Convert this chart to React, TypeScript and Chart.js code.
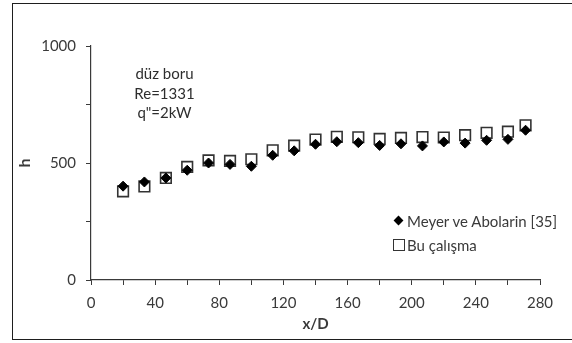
import React, { useEffect, useRef } from "react";
import { Chart, registerables } from "chart.js";

Chart.register(...registerables);

// x/D positions (shared by both series)
const xD = [20, 33.3, 46.7, 60, 73.3, 86.7, 100, 113.3, 126.7, 140, 153.3, 166.7, 180, 193.3, 206.7, 220, 233.3, 246.7, 260, 271];
// Meyer ve Abolarin [35]
const meyerH = [401, 419, 436, 469, 500, 494, 486, 533, 552, 580, 591, 587, 575, 582, 573, 590, 585, 597, 601, 640];
// Bu çalışma
const buH = [379, 400, 436, 483, 511, 509, 516, 554, 574, 600, 612, 610, 603, 607, 611, 609, 619, 629, 634, 661];

const seriesNames = ["Meyer ve Abolarin [35]", "Bu çalışma"];
const annotationLines = ["düz boru", "Re=1331", 'q"=2kW'];

const xTickValues = [0, 20, 40, 60, 80, 100, 120, 140, 160, 180, 200, 220, 240, 260, 280];
const xTickLabels = [0, 40, 80, 120, 160, 200, 240, 280];
const yTickValues = [0, 250, 500, 750, 1000];
const yTickLabels = [0, 500, 1000];

const xTitle = "x/D";
const yTitle = "h";

const FONT = "Lato, 'Open Sans', sans-serif";
const FS = 15;
const TEXT = "#3a3a3a";
const AXIS = "#3a3a3a";

export default function App() {
  const ref = useRef<HTMLCanvasElement>(null);

  useEffect(() => {
    const chart = new Chart(ref.current as HTMLCanvasElement, {
      type: "scatter",
      data: {
        datasets: [
          {
            label: seriesNames[0],
            data: xD.map((x, i) => ({ x, y: meyerH[i] })),
            pointStyle: "rectRot",
            pointRadius: 5,
            pointHoverRadius: 5,
            backgroundColor: "#000",
            borderColor: "#000",
            borderWidth: 1,
          },
          {
            label: seriesNames[1],
            data: xD.map((x, i) => ({ x, y: buH[i] })),
            pointStyle: "rect",
            pointRadius: 7.5,
            pointHoverRadius: 7.5,
            backgroundColor: "#fff",
            borderColor: "#333",
            borderWidth: 1.6,
          },
        ],
      },
      options: {
        responsive: false,
        animation: false,
        devicePixelRatio: 1,
        layout: { padding: { top: 46, right: 32, bottom: 0, left: 0 } },
        plugins: {
          legend: { display: false },
          tooltip: { enabled: false },
        },
        scales: {
          x: {
            type: "linear",
            min: 0,
            max: 280,
            afterBuildTicks: (s: any) => {
              s.ticks = xTickValues.map((v) => ({ value: v }));
            },
            afterFit: (s: any) => {
              s.height = 63;
            },
            ticks: {
              autoSkip: false,
              maxRotation: 0,
              padding: 9,
              color: TEXT,
              font: { family: FONT, size: FS },
              callback: (v: any) => (xTickLabels.includes(Number(v)) ? String(v) : ""),
            },
            grid: {
              display: true,
              drawOnChartArea: false,
              drawTicks: true,
              tickLength: 5,
              color: AXIS,
              lineWidth: 1,
            },
            border: { display: true, color: AXIS, width: 1.2 },
            title: {
              display: true,
              text: xTitle,
              color: TEXT,
              font: { family: FONT, size: FS, weight: "bold" },
              padding: { top: 0, bottom: 10 },
            },
          },
          y: {
            type: "linear",
            min: 0,
            max: 1000,
            afterBuildTicks: (s: any) => {
              s.ticks = yTickValues.map((v) => ({ value: v }));
            },
            afterFit: (s: any) => {
              s.width = 91;
            },
            ticks: {
              autoSkip: false,
              padding: 10,
              color: TEXT,
              font: { family: FONT, size: FS },
              callback: (v: any) => (yTickLabels.includes(Number(v)) ? String(v) : ""),
            },
            grid: {
              display: true,
              drawOnChartArea: false,
              drawTicks: true,
              tickLength: 5,
              color: AXIS,
              lineWidth: 1,
            },
            border: { display: true, color: AXIS, width: 1.2 },
            title: {
              display: true,
              text: yTitle,
              color: TEXT,
              font: { family: FONT, size: FS + 1, weight: "bold" },
              padding: { top: 15, bottom: 0 },
            },
          },
        },
      },
    });
    return () => chart.destroy();
  }, []);

  return (
    <div
      style={{
        position: "absolute",
        left: 0,
        top: 0,
        width: 572,
        height: 343,
        overflow: "hidden",
        background: "#fff",
        fontFamily: FONT,
      }}
    >
      <div
        style={{
          position: "absolute",
          left: 11.5,
          top: 2.5,
          width: 620,
          height: 337,
          border: "1.5px solid #1e1e1e",
          boxSizing: "border-box",
        }}
      />
      <canvas ref={ref} width={572} height={343} style={{ position: "absolute", left: 0, top: 0 }} />
      <div
        style={{
          position: "absolute",
          left: 114,
          top: 64,
          width: 101,
          textAlign: "center",
          fontSize: FS,
          lineHeight: "19.5px",
          color: "#2e2e2e",
        }}
      >
        {annotationLines.map((l, i) => (
          <div key={i}>{l}</div>
        ))}
      </div>
      <div style={{ position: "absolute", left: 394.5, top: 216.5, width: 7, height: 7, background: "#000", transform: "rotate(45deg)" }} />
      <div
        style={{ position: "absolute", left: 407, top: 211, height: 20, lineHeight: "20px", fontSize: FS, color: TEXT, whiteSpace: "nowrap" }}
      >
        {seriesNames[0]}
      </div>
      <div
        style={{
          position: "absolute",
          left: 393,
          top: 239,
          width: 12,
          height: 12,
          border: "1.5px solid #333",
          boxSizing: "border-box",
          background: "#fff",
        }}
      />
      <div
        style={{ position: "absolute", left: 407, top: 235, height: 20, lineHeight: "20px", fontSize: FS, color: TEXT, whiteSpace: "nowrap" }}
      >
        {seriesNames[1]}
      </div>
    </div>
  );
}
